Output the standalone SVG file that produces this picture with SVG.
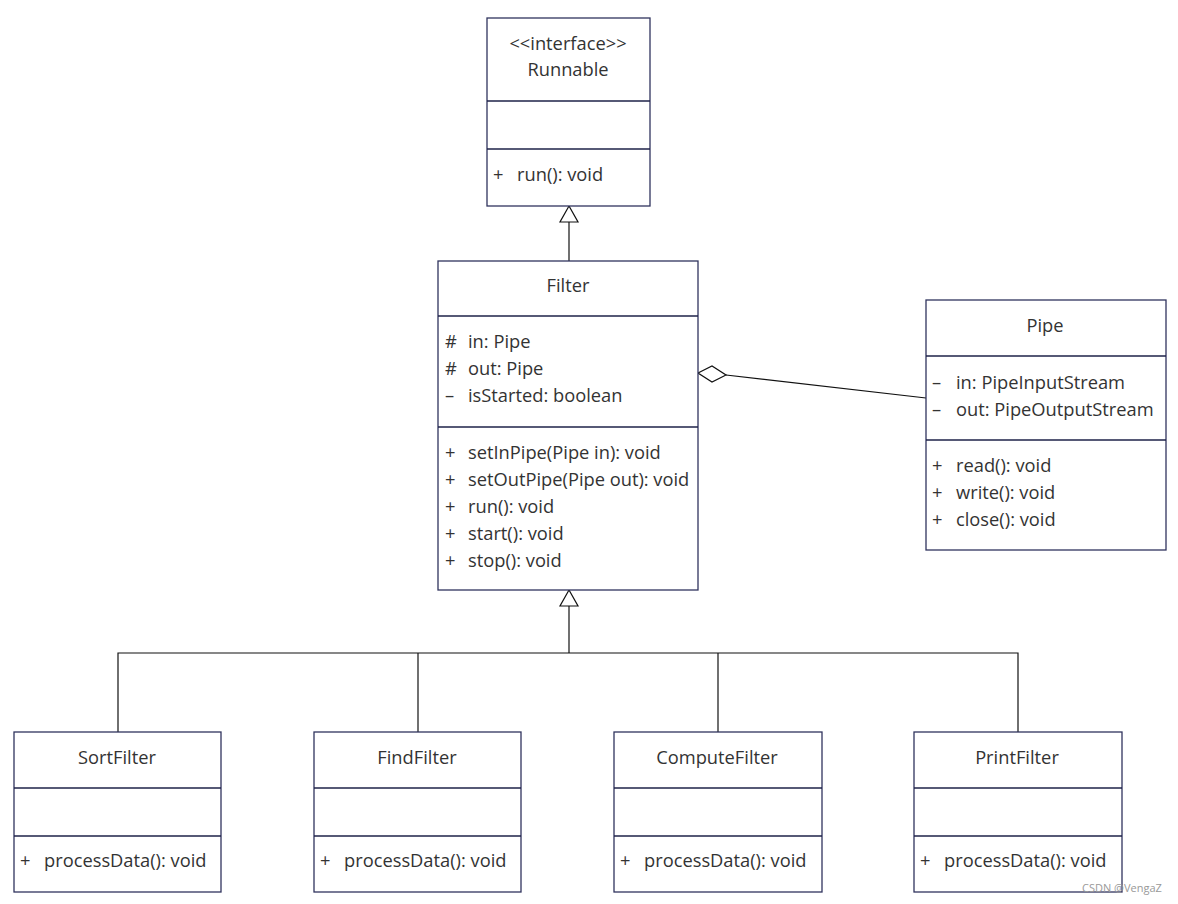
<svg xmlns="http://www.w3.org/2000/svg" width="1178" height="904" viewBox="0 0 1178 904">
<style>
.box{fill:#fff;stroke:#30345e;stroke-width:1.3}
.div{stroke:#1e2248;stroke-width:1.3}
text{font-family:"Open Sans","Liberation Sans",sans-serif;font-size:18.3px;fill:#333}
.c{text-anchor:middle}
.con{stroke:#111;stroke-width:1.2;fill:none}
.wm{font-size:11px;fill:#999}
</style>
<rect width="1178" height="904" fill="#fff"/>
<g id="connectors">
<line class="con" x1="569" y1="222" x2="569" y2="261"/>
<polygon class="con" fill="#fff" points="569,206 560,222 578,222"/>
<line class="con" x1="569" y1="606" x2="569" y2="653"/>
<polygon class="con" fill="#fff" points="569,590 560,606 578,606"/>
<polyline class="con" points="118,732 118,653 1018,653 1018,732"/>
<line class="con" x1="418" y1="653" x2="418" y2="732"/>
<line class="con" x1="718" y1="653" x2="718" y2="732"/>
<line class="con" x1="726" y1="375" x2="926" y2="398"/>
<polygon class="con" fill="#fff" points="698,373 712,366 726,375 712,382"/>
</g>
<g id="Runnable">
<rect class="box" x="487" y="18" width="163" height="188"/>
<line class="div" x1="487" y1="101" x2="650" y2="101"/>
<line class="div" x1="487" y1="149" x2="650" y2="149"/>
<text class="c" x="568" y="50">&lt;&lt;interface&gt;&gt;</text>
<text class="c" x="568" y="76">Runnable</text>
<text x="493" y="181">+</text><text x="517" y="181">run(): void</text>
</g>
<g id="Filter">
<rect class="box" x="438" y="261" width="260" height="329"/>
<line class="div" x1="438" y1="316" x2="698" y2="316"/>
<line class="div" x1="438" y1="427" x2="698" y2="427"/>
<text class="c" x="568" y="292">Filter</text>
<text x="445" y="348">#</text><text x="468" y="348">in: Pipe</text>
<text x="445" y="375">#</text><text x="468" y="375">out: Pipe</text>
<text x="445" y="402">–</text><text x="468" y="402">isStarted: boolean</text>
<text x="445" y="459">+</text><text x="468" y="459">setInPipe(Pipe in): void</text>
<text x="445" y="486">+</text><text x="468" y="486">setOutPipe(Pipe out): void</text>
<text x="445" y="513">+</text><text x="468" y="513">run(): void</text>
<text x="445" y="540">+</text><text x="468" y="540">start(): void</text>
<text x="445" y="567">+</text><text x="468" y="567">stop(): void</text>
</g>
<g id="Pipe">
<rect class="box" x="926" y="300" width="240" height="250"/>
<line class="div" x1="926" y1="356" x2="1166" y2="356"/>
<line class="div" x1="926" y1="440" x2="1166" y2="440"/>
<text class="c" x="1045" y="332">Pipe</text>
<text x="932" y="389">–</text><text x="956" y="389">in: PipeInputStream</text>
<text x="932" y="416">–</text><text x="956" y="416">out: PipeOutputStream</text>
<text x="932" y="472">+</text><text x="956" y="472">read(): void</text>
<text x="932" y="499">+</text><text x="956" y="499">write(): void</text>
<text x="932" y="526">+</text><text x="956" y="526">close(): void</text>
</g>
<g id="SortFilter">
<rect class="box" x="14" y="732" width="207" height="160"/>
<line class="div" x1="14" y1="788" x2="221" y2="788"/>
<line class="div" x1="14" y1="836" x2="221" y2="836"/>
<text class="c" x="117" y="764">SortFilter</text>
<text x="20" y="867">+</text><text x="44" y="867">processData(): void</text>
</g>
<g id="FindFilter">
<rect class="box" x="314" y="732" width="207" height="160"/>
<line class="div" x1="314" y1="788" x2="521" y2="788"/>
<line class="div" x1="314" y1="836" x2="521" y2="836"/>
<text class="c" x="417" y="764">FindFilter</text>
<text x="320" y="867">+</text><text x="344" y="867">processData(): void</text>
</g>
<g id="ComputeFilter">
<rect class="box" x="614" y="732" width="208" height="160"/>
<line class="div" x1="614" y1="788" x2="822" y2="788"/>
<line class="div" x1="614" y1="836" x2="822" y2="836"/>
<text class="c" x="717" y="764">ComputeFilter</text>
<text x="620" y="867">+</text><text x="644" y="867">processData(): void</text>
</g>
<g id="PrintFilter">
<rect class="box" x="914" y="732" width="208" height="160"/>
<line class="div" x1="914" y1="788" x2="1122" y2="788"/>
<line class="div" x1="914" y1="836" x2="1122" y2="836"/>
<text class="c" x="1017" y="764">PrintFilter</text>
<text x="920" y="867">+</text><text x="944" y="867">processData(): void</text>
</g>
<text class="wm" x="1082" y="892">CSDN @VengaZ</text>
</svg>
